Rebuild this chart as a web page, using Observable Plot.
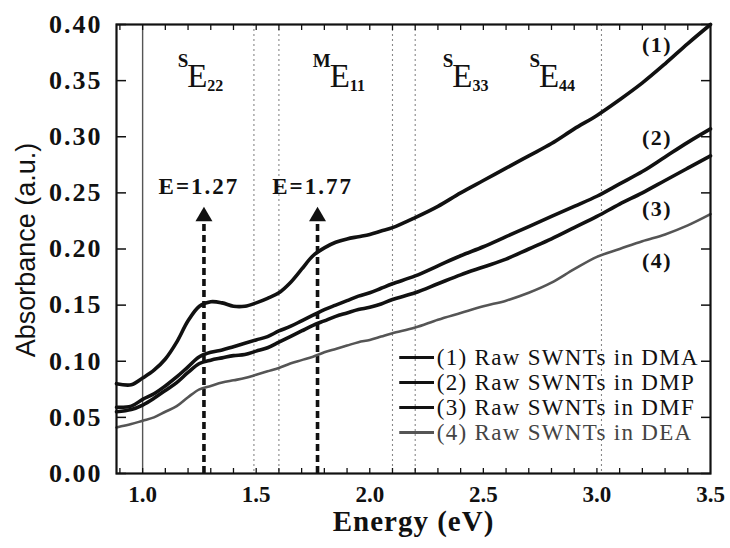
<!DOCTYPE html>
<html>
<head>
<meta charset="utf-8">
<script src="https://cdn.jsdelivr.net/npm/d3@7"></script>
<script src="https://cdn.jsdelivr.net/npm/@observablehq/plot@0.6"></script>
<style>
html, body { margin: 0; padding: 0; background: #fff; }
#chart { width: 730px; height: 548px; }
</style>
</head>
<body>
<div id="chart"></div>
<script>
// ---- data ----
const energy = [0.885, 0.95, 1.0, 1.05, 1.1, 1.15, 1.2, 1.25, 1.3, 1.35, 1.4, 1.45, 1.5, 1.55, 1.6, 1.65, 1.7, 1.75, 1.8, 1.85, 1.9, 1.95, 2.0, 2.05, 2.1, 2.2, 2.3, 2.4, 2.5, 2.6, 2.7, 2.8, 2.9, 3.0, 3.1, 3.2, 3.3, 3.4, 3.5];
const absDMA = [0.080, 0.079, 0.085, 0.092, 0.102, 0.117, 0.136, 0.149, 0.153, 0.152, 0.149, 0.149, 0.152, 0.156, 0.161, 0.170, 0.182, 0.194, 0.201, 0.206, 0.209, 0.211, 0.213, 0.216, 0.219, 0.228, 0.238, 0.250, 0.261, 0.272, 0.283, 0.294, 0.307, 0.319, 0.333, 0.348, 0.365, 0.383, 0.400];
const absDMP = [0.059, 0.060, 0.066, 0.071, 0.078, 0.086, 0.095, 0.104, 0.108, 0.110, 0.113, 0.116, 0.119, 0.122, 0.127, 0.131, 0.136, 0.141, 0.146, 0.150, 0.154, 0.158, 0.161, 0.165, 0.169, 0.176, 0.185, 0.194, 0.202, 0.211, 0.220, 0.229, 0.238, 0.247, 0.258, 0.269, 0.282, 0.295, 0.307];
const absDMF = [0.055, 0.057, 0.061, 0.067, 0.074, 0.081, 0.090, 0.098, 0.101, 0.103, 0.105, 0.106, 0.109, 0.112, 0.117, 0.122, 0.127, 0.132, 0.136, 0.140, 0.143, 0.146, 0.148, 0.151, 0.155, 0.161, 0.169, 0.177, 0.184, 0.191, 0.200, 0.209, 0.219, 0.229, 0.240, 0.250, 0.261, 0.272, 0.283];
const absDEA = [0.041, 0.044, 0.047, 0.050, 0.055, 0.060, 0.068, 0.075, 0.078, 0.081, 0.083, 0.085, 0.088, 0.091, 0.094, 0.098, 0.101, 0.104, 0.108, 0.111, 0.114, 0.117, 0.119, 0.122, 0.125, 0.130, 0.137, 0.143, 0.149, 0.154, 0.161, 0.170, 0.182, 0.193, 0.200, 0.207, 0.213, 0.221, 0.231];

const seriesNames = ["(1) Raw SWNTs in DMA", "(2) Raw SWNTs in DMP", "(3) Raw SWNTs in DMF", "(4) Raw SWNTs in DEA"];
const curveTags = ["(1)", "(2)", "(3)", "(4)"];
const curveTagValue = [0.382, 0.299, 0.236, 0.189];

const peakEnergies = [1.27, 1.77];
const transitionEnergy = [1.241, 1.868, 2.408, 2.789];
const transitionSup = ["S", "M", "S", "S"];
const transitionMain = ["E", "E", "E", "E"];
const transitionSub = ["22", "11", "33", "44"];

const solidRefLines = [1.0];
const dottedRefLines = [1.49, 1.60, 2.10, 2.20, 3.02];

const yTicks = [0, 0.05, 0.10, 0.15, 0.20, 0.25, 0.30, 0.35, 0.40];
const xTicks = [1.0, 1.5, 2.0, 2.5, 3.0, 3.5];
const xMinorTicks = [0.9, 1.0, 1.1, 1.2, 1.3, 1.4, 1.5, 1.6, 1.7, 1.8, 1.9, 2.0, 2.1, 2.2, 2.3, 2.4, 2.5, 2.6, 2.7, 2.8, 2.9, 3.0, 3.1, 3.2, 3.3, 3.4];

// ---- styling / layout (not data) ----
const serif = "'Liberation Serif', 'Times New Roman', serif";
const sans = "'Liberation Sans', Arial, sans-serif";
const seriesColor = ["#111", "#111", "#111", "#555"];
const seriesWidth = [3.6, 3.6, 3.6, 2.6];
const xDomain = [0.885, 3.5];
const yDomain = [0, 0.40];
const legendLineX = [2.132, 2.285];
const legendTextX = 2.295;
const legendRowY = [0.1033, 0.0811, 0.0588, 0.0365];

const values = [absDMA, absDMP, absDMF, absDEA];
const rows = seriesNames.flatMap((name, i) => energy.map((e, j) => ({series: name, idx: i, energy: e, value: values[i][j]})));
const tagRows = curveTags.map((t, i) => ({t, v: curveTagValue[i]}));
const transRows = transitionEnergy.map((e, i) => ({e, sup: transitionSup[i], main: transitionMain[i], sub: transitionSub[i]}));
const legendRows = seriesNames.map((n, i) => ({n, i, y: legendRowY[i]}));

const marks = [
  Plot.ruleX(solidRefLines, {stroke: "#555", strokeWidth: 1.4}),
  Plot.ruleX(dottedRefLines, {stroke: "#888", strokeWidth: 1.1, strokeDasharray: "2,3"}),
  Plot.ruleX(peakEnergies, {y1: 0, y2: 0.222, stroke: "#111", strokeWidth: 3.6, strokeDasharray: "7,4"}),
  Plot.dot(peakEnergies, {x: d => d, y: 0.229, symbol: "triangle", r: 6.3, fill: "#111", stroke: "none"}),
  Plot.text(peakEnergies, {x: d => d, y: 0.256, text: d => "E=" + d, dx: -5, fontSize: 23, fontWeight: "bold", fontFamily: serif, fill: "#111"})
];
seriesNames.forEach((name, i) => {
  marks.push(Plot.line(rows.filter(r => r.idx === i), {x: "energy", y: "value", stroke: seriesColor[i], strokeWidth: seriesWidth[i], curve: "catmull-rom", strokeLinejoin: "round", strokeLinecap: "round"}));
});
marks.push(
  Plot.text(tagRows, {x: 3.265, y: "v", text: "t", fontSize: 22, fontWeight: "bold", fontFamily: serif, fill: "#111"}),
  Plot.text(transRows, {x: "e", y: 0.354, text: "main", fontSize: 33, fontFamily: serif, fill: "#111"}),
  Plot.text(transRows, {x: "e", y: 0.354, text: "sup", dx: -9, dy: -15, textAnchor: "end", fontSize: 19, fontFamily: serif, fontWeight: "bold", fill: "#111"}),
  Plot.text(transRows, {x: "e", y: 0.354, text: "sub", dx: 10, dy: 10, textAnchor: "start", fontSize: 16, fontFamily: serif, fontWeight: "bold", fill: "#111"})
);
legendRows.forEach(r => {
  marks.push(Plot.ruleY([r.y], {x1: legendLineX[0], x2: legendLineX[1], stroke: seriesColor[r.i], strokeWidth: 3}));
  marks.push(Plot.text([r], {x: legendTextX, y: "y", text: "n", textAnchor: "start", fontSize: 23, fontFamily: serif, fill: r.i === 3 ? "#444" : "#111"}));
});
marks.push(
  Plot.axisY(yTicks, {anchor: "left", tickSize: 0, tickPadding: 14, tickFormat: d3.format(".2f"), fontSize: 26, fontWeight: "bold", fontFamily: serif, fill: "#111", label: null}),
  Plot.axisY(yTicks, {anchor: "left", tickSize: -10, tickFormat: () => "", label: null, stroke: "#111", strokeWidth: 1.5}),
  Plot.axisY(yTicks, {anchor: "right", tickSize: -10, tickFormat: () => "", label: null, stroke: "#111", strokeWidth: 1.5}),
  Plot.axisX(xTicks, {anchor: "bottom", tickSize: 0, tickPadding: 12, tickFormat: d3.format(".1f"), fontSize: 23, fontWeight: "bold", fontFamily: serif, fill: "#111", label: null}),
  Plot.axisX(xMinorTicks, {anchor: "bottom", tickSize: -5, tickFormat: () => "", label: null, stroke: "#111", strokeWidth: 1.3}),
  Plot.axisX(xMinorTicks, {anchor: "top", tickSize: -5, tickFormat: () => "", label: null, stroke: "#111", strokeWidth: 1.3}),
  Plot.frame({stroke: "#111", strokeWidth: 2.2}),
  Plot.text(["Absorbance (a.u.)"], {frameAnchor: "left", textAnchor: "middle", lineAnchor: "middle", rotate: -90, dx: -90, dy: 1, fontSize: 27, fontFamily: sans, fill: "#111"}),
  Plot.text(["Energy (eV)"], {frameAnchor: "bottom", textAnchor: "middle", lineAnchor: "middle", dy: 48, fontSize: 29, fontWeight: "bold", fontFamily: serif, fill: "#111"})
);

const chart = Plot.plot({
  width: 730,
  height: 548,
  marginLeft: 116,
  marginRight: 20,
  marginTop: 24,
  marginBottom: 75,
  style: {background: "#fff", fontFamily: serif, overflow: "visible"},
  x: {domain: xDomain},
  y: {domain: yDomain},
  marks
});

// widen the scanned-looking text a little (letter spacing by text role)
d3.select(chart).selectAll("text").each(function () {
  const t = this.textContent;
  let ls = null;
  if (seriesNames.includes(t)) ls = 1.3;
  else if (/^0\.\d\d$/.test(t)) ls = 2;
  else if (/^E=/.test(t)) ls = 2;
  else if (curveTags.includes(t)) ls = 1.5;
  else if (t === "Energy (eV)") ls = 1;
  if (ls !== null) this.setAttribute("letter-spacing", ls);
});

document.getElementById("chart").appendChild(chart);
</script>
</body>
</html>
